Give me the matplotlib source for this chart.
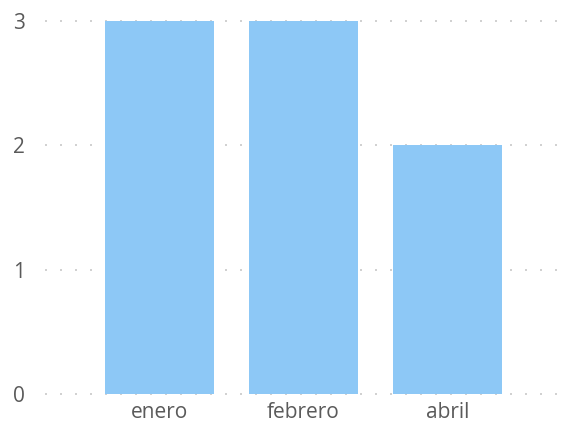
import matplotlib
matplotlib.use("Agg")
import matplotlib.pyplot as plt

categories = ["enero", "febrero", "abril"]
values = [3, 3, 2]
yticks = [0, 1, 2, 3]

plt.rcParams['font.family'] = ['Open Sans', 'DejaVu Sans']

fig = plt.figure(figsize=(5.68, 4.25), dpi=100)
ax = fig.add_axes([45/568, 31/425, 520/568, 373/425])
x = list(range(len(categories)))
ax.bar(x, values, width=0.757, color="#8DC8F6", zorder=3)
ax.set_xlim(-0.795, 2.816)
ax.set_ylim(0, 3)
ax.set_yticks(yticks)
ax.set_xticks(x)
ax.set_xticklabels(categories)
for s in ax.spines.values():
    s.set_visible(False)
ax.tick_params(axis='both', length=0, labelsize=15, labelcolor="#5A5A5A")
ax.tick_params(axis='y', pad=19)
ax.tick_params(axis='x', pad=6)
for t in ax.get_yticklabels():
    t.set_horizontalalignment('center')
ax.grid(axis='y', color="#C8C8C8", linestyle=(0, (1.2, 7.8)), linewidth=1.2, zorder=0)
for gl in ax.get_ygridlines():
    gl.set_clip_on(False)
fig.savefig("out.png", dpi=100)
